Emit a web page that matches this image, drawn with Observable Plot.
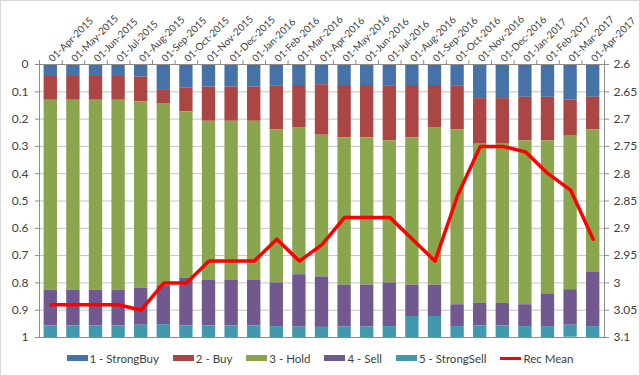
<!DOCTYPE html>
<html><head><meta charset="utf-8">
<script src="https://cdn.jsdelivr.net/npm/d3@7"></script>
<script src="https://cdn.jsdelivr.net/npm/@observablehq/plot@0.6"></script>
<style>
body{margin:0;background:#fff;font-family:Lato,"Open Sans",sans-serif;}
#wrap{position:relative;width:640px;height:376px;overflow:hidden;background:#fff}
#border{position:absolute;left:0;top:0;width:640px;height:376px;box-sizing:border-box;border:1px solid #d9d9d9;pointer-events:none}
.legend{display:flex;justify-content:center;align-items:center;height:24px;font-size:11.5px;color:#404040;font-family:Lato,"Open Sans",sans-serif}
.item{display:flex;align-items:center;margin:0 7px}
.sw{width:21px;height:6px;margin-right:2px}
.ln{width:21px;height:3px;margin-right:2px}
</style></head><body>
<div id="wrap"><div id="chart"></div><div class="legend" id="legend"></div><div id="border"></div></div>
<script>
const months = ["01-Apr-2015","01-May-2015","01-Jun-2015","01-Jul-2015","01-Aug-2015","01-Sep-2015","01-Oct-2015","01-Nov-2015","01-Dec-2015","01-Jan-2016","01-Feb-2016","01-Mar-2016","01-Apr-2016","01-May-2016","01-Jun-2016","01-Jul-2016","01-Aug-2016","01-Sep-2016","01-Oct-2016","01-Nov-2016","01-Dec-2016","01-Jan-2017","01-Feb-2017","01-Mar-2017","01-Apr-2017"];
const ratings = ["1 - StrongBuy","2 - Buy","3 - Hold","4 - Sell","5 - StrongSell"];
const colors = ["#4572A7","#AA4643","#89A54E","#71588F","#4198AF"];
const strongBuy  = [.044,.044,.044,.044,.046,.095,.087,.083,.083,.083,.080,.077,.074,.077,.077,.080,.077,.077,.080,.125,.125,.120,.120,.130,.120];
const buy        = [.087,.087,.087,.087,.091,.048,.087,.125,.125,.125,.160,.154,.185,.192,.192,.200,.192,.154,.160,.167,.167,.160,.160,.130,.120];
const hold       = [.696,.696,.696,.696,.682,.667,.609,.583,.583,.583,.560,.539,.519,.539,.539,.520,.539,.577,.640,.583,.583,.600,.560,.565,.520];
const sell       = [.130,.130,.130,.130,.136,.143,.174,.167,.167,.167,.160,.192,.185,.154,.154,.160,.115,.115,.080,.083,.083,.080,.120,.130,.200];
const strongSell = [.043,.043,.043,.043,.045,.047,.043,.042,.042,.042,.040,.038,.037,.038,.038,.040,.077,.077,.040,.042,.042,.040,.040,.044,.040];
const recLabel = "Rec Mean";
const recMean = [3.04,3.04,3.04,3.04,3.05,3.00,3.00,2.96,2.96,2.96,2.92,2.96,2.93,2.88,2.88,2.88,2.92,2.96,2.84,2.75,2.75,2.76,2.80,2.83,2.92];
const leftTicks = [0,0.1,0.2,0.3,0.4,0.5,0.6,0.7,0.8,0.9,1];
const rightTicks = [2.6,2.65,2.7,2.75,2.8,2.85,2.9,2.95,3,3.05,3.1];

const series = [strongBuy, buy, hold, sell, strongSell];
const rows = months.flatMap((m,i)=> ratings.map((r,k)=>({month:m, rating:r, value: series[k][i]})));
const lineRows = months.map((m,i)=>({month:m, mean: recMean[i]}));
const r0 = rightTicks[0], r1 = rightTicks[rightTicks.length-1];
const toLeft = v => (v - r0)/(r1 - r0);

const W=640, H=346, mT=64, mB=9, mL=39, mR=36, pIn=0.41, pOut=0.205;
const step = (W-mL-mR)/(months.length - pIn + 2*pOut);

const chart = Plot.plot({
  width:W, height:H, marginTop:mT, marginBottom:mB, marginLeft:mL, marginRight:mR,
  style:{fontFamily:"Lato, 'Open Sans', sans-serif", fontSize:"12px", color:"#404040", background:"transparent"},
  x:{type:"band", domain:months, paddingInner:pIn, paddingOuter:pOut, round:false, axis:null, label:null},
  y:{domain:[0,1], reverse:true, axis:null, label:null},
  color:{domain:ratings, range:colors},
  marks:[
    Plot.ruleY(leftTicks, {stroke:"#c4c4c4"}),
    Plot.barY(rows, {x:"month", y:"value", fill:"rating"}),
    Plot.frame({stroke:"#8c8c8c"}),
    Plot.line(lineRows, {x:"month", y:d=>toLeft(d.mean), stroke:"#ff0000", strokeWidth:3.5}),
    Plot.axisY(leftTicks, {anchor:"left", tickSize:4, tickPadding:7, label:null, stroke:"#8c8c8c", fill:"#404040", fontSize:12, tickFormat:d=>String(+d.toFixed(1))}),
    Plot.axisY(rightTicks.map(toLeft), {anchor:"right", tickSize:4, tickPadding:5, label:null, stroke:"#8c8c8c", fill:"#404040", fontSize:12, tickFormat:d=>String(+(r0 + d*(r1-r0)).toFixed(2))}),
    Plot.axisX({anchor:"top", tickSize:5, dx:-step/2, label:null, stroke:"#8c8c8c", tickFormat:()=>""}),
    Plot.axisX([months[months.length-1]], {anchor:"top", tickSize:5, dx:step/2, label:null, stroke:"#8c8c8c", tickFormat:()=>""}),
    Plot.text(months, {x:d=>d, frameAnchor:"top", dx:-3, dy:-7, rotate:-45, textAnchor:"start", fontSize:10, fill:"#404040"})
  ]
});
document.getElementById("chart").appendChild(chart);

const lg = document.getElementById("legend");
ratings.forEach((r,k)=>{
  const it = document.createElement("div"); it.className="item";
  it.innerHTML = `<span class="sw" style="background:${colors[k]}"></span><span>${r}</span>`;
  lg.appendChild(it);
});
const it = document.createElement("div"); it.className="item";
it.innerHTML = `<span class="ln" style="background:#ff0000"></span><span>${recLabel}</span>`;
lg.appendChild(it);
</script>
</body></html>
